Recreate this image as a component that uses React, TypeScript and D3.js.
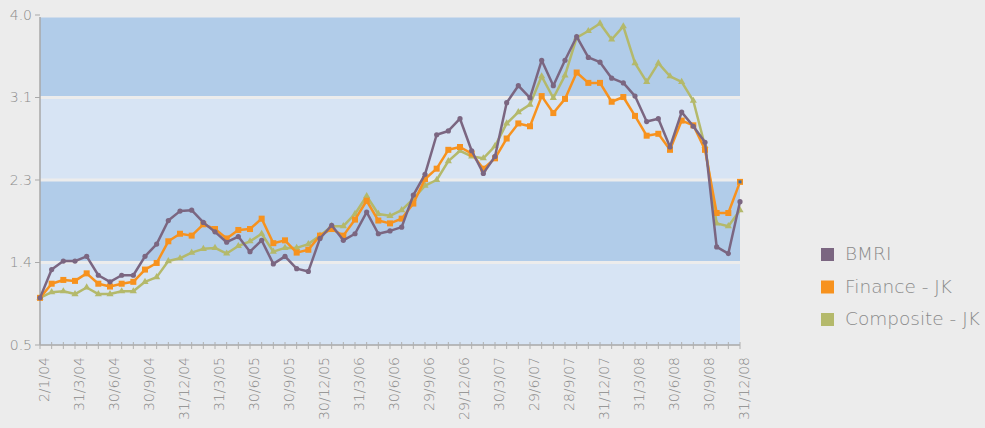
import React from "react";
import * as d3 from "d3";

// Month-end observation dates, Jan 2004 – Dec 2008 (index 0 = 2/1/04)
const tickLabels = [
  "2/1/04", "31/3/04", "30/6/04", "30/9/04", "31/12/04", "31/3/05", "30/6/05",
  "30/9/05", "30/12/05", "31/3/06", "30/6/06", "29/9/06", "29/12/06", "30/3/07",
  "29/6/07", "28/9/07", "31/12/07", "31/3/08", "30/6/08", "30/9/08", "31/12/08",
];

const bmri = [
  1.0, 1.3, 1.39, 1.39, 1.44, 1.24, 1.17, 1.24, 1.24, 1.44, 1.57, 1.82, 1.92, 1.93,
  1.8, 1.7, 1.59, 1.65, 1.49, 1.61, 1.36, 1.44, 1.31, 1.28, 1.63, 1.77, 1.61, 1.68,
  1.91, 1.68, 1.71, 1.75, 2.09, 2.31, 2.73, 2.77, 2.9, 2.56, 2.32, 2.5, 3.07, 3.25,
  3.12, 3.52, 3.25, 3.52, 3.77, 3.55, 3.5, 3.33, 3.28, 3.14, 2.87, 2.9, 2.6, 2.97,
  2.82, 2.65, 1.54, 1.47, 2.02,
];

const finance = [
  1.0, 1.15, 1.19, 1.18, 1.26, 1.15, 1.12, 1.15, 1.17, 1.3, 1.37, 1.6, 1.68, 1.66,
  1.78, 1.73, 1.63, 1.72, 1.73, 1.84, 1.58, 1.61, 1.48, 1.51, 1.66, 1.73, 1.66, 1.83,
  2.03, 1.82, 1.79, 1.84, 2.0, 2.26, 2.37, 2.57, 2.6, 2.53, 2.37, 2.48, 2.69, 2.85,
  2.82, 3.14, 2.96, 3.11, 3.39, 3.28, 3.28, 3.08, 3.13, 2.93, 2.72, 2.74, 2.57, 2.88,
  2.83, 2.57, 1.9, 1.9, 2.23,
];

const composite = [
  1.0, 1.06, 1.07, 1.04, 1.11, 1.04, 1.04, 1.07, 1.07, 1.17, 1.22, 1.39, 1.42, 1.48,
  1.52, 1.53, 1.47, 1.55, 1.6, 1.68, 1.49, 1.53, 1.53, 1.57, 1.66, 1.76, 1.76, 1.89,
  2.08, 1.89, 1.87, 1.93, 2.05, 2.19, 2.25, 2.45, 2.56, 2.5, 2.48, 2.61, 2.85, 2.97,
  3.05, 3.35, 3.12, 3.36, 3.76, 3.83, 3.91, 3.74, 3.88, 3.49, 3.29, 3.49, 3.35, 3.29,
  3.09, 2.61, 1.79, 1.76, 1.93,
];

const yTicks = [0.5, 1.375, 2.25, 3.125, 4.0];

const seriesNames = ["BMRI", "Finance - JK", "Composite - JK"];
const seriesColors = ["#7b6681", "#f7921e", "#b4b96b"];

const W = 985;
const H = 428;
const left = 40;
const right = 740;
const top = 15;
const bottom = 345;

export default function App() {
  const n = bmri.length;
  const x = d3.scaleLinear().domain([0, n - 1]).range([left, right]);
  const y = d3.scaleLinear().domain([0.5, 4.0]).range([bottom, top]);

  const line = d3
    .line<number>()
    .x((_, i) => x(i))
    .y((v) => y(v));

  const bands = yTicks.slice(0, -1).map((lo, k) => {
    const hi = yTicks[k + 1];
    const y0 = y(hi) + (k === yTicks.length - 2 ? 2.5 : 1.5);
    const y1 = k === 0 ? y(lo) : y(lo) - 1.5;
    return { y0, y1, dark: k % 2 === 1 };
  });

  const labelEvery = 3;
  const font = "'DejaVu Sans', sans-serif";
  const weight = 200;
  const textColor = "#8a8a8a";

  const series = [
    { data: composite, color: seriesColors[2], marker: "tri" },
    { data: finance, color: seriesColors[1], marker: "sq" },
    { data: bmri, color: seriesColors[0], marker: "dot" },
  ];

  const triangle = d3.symbol().type(d3.symbolTriangle).size(22)() as string;

  return (
    <svg
      width={W}
      height={H}
      style={{ position: "absolute", left: 0, top: 0, background: "#ececec", display: "block" }}
    >
      <rect x={0} y={0} width={W} height={H} fill="#ececec" />
      {bands.map((b, i) => (
        <rect
          key={i}
          x={left}
          y={b.y0}
          width={right - left}
          height={b.y1 - b.y0}
          fill={b.dark ? "#b1cce9" : "#d7e4f4"}
        />
      ))}

      {/* y axis */}
      <line x1={left} x2={left} y1={top + 2} y2={bottom} stroke="#a9a9a9" strokeWidth={1.5} />
      {yTicks.map((t) => (
        <g key={t}>
          <line x1={left - 5} x2={left} y1={y(t)} y2={y(t)} stroke="#a9a9a9" strokeWidth={1} />
          <text
            x={left - 8}
            y={y(t)}
            dy="0.35em"
            textAnchor="end"
            fontFamily={font}
            fontWeight={weight}
            fontSize={14}
            fill={textColor}
          >
            {d3.format(".1f")(t)}
          </text>
        </g>
      ))}

      {/* x axis */}
      <line x1={left} x2={right} y1={bottom} y2={bottom} stroke="#a9a9a9" strokeWidth={1.5} />
      {d3.range(n).map((i) => (
        <line key={i} x1={x(i)} x2={x(i)} y1={bottom - 3} y2={bottom + 4} stroke="#b0b0b0" strokeWidth={1} />
      ))}
      {tickLabels.map((lab, k) => (
        <text
          key={lab}
          transform={`translate(${x(k * labelEvery) + 4},${bottom + 12}) rotate(-90)`}
          dy="0.35em"
          textAnchor="end"
          fontFamily={font}
          fontWeight={weight}
          fontSize={14}
          fill={textColor}
        >
          {lab}
        </text>
      ))}

      {/* series */}
      {series.map((s, si) => (
        <g key={si}>
          <path d={line(s.data) as string} fill="none" stroke={s.color} strokeWidth={2.5} strokeLinejoin="round" />
          {s.data.map((v, i) =>
            s.marker === "sq" ? (
              <rect key={i} x={x(i) - 3} y={y(v) - 3} width={6} height={6} fill={s.color} />
            ) : s.marker === "tri" ? (
              <path key={i} d={triangle} transform={`translate(${x(i)},${y(v)})`} fill={s.color} />
            ) : (
              <circle key={i} cx={x(i)} cy={y(v)} r={2.6} fill={s.color} />
            )
          )}
        </g>
      ))}
      <rect x={x(n - 1) - 1.5} y={y(finance[n - 1]) - 1.5} width={3} height={3} fill="#3d6fa8" />

      {/* legend */}
      {seriesNames.map((name, i) => (
        <g key={name} transform={`translate(821,${248 + i * 32.5})`}>
          <rect x={0} y={0} width={13} height={13} fill={seriesColors[i]} />
          <text x={24} y={12} fontFamily={font} fontWeight={weight} fontSize={18.5} fill={textColor}>
            {name}
          </text>
        </g>
      ))}
    </svg>
  );
}
